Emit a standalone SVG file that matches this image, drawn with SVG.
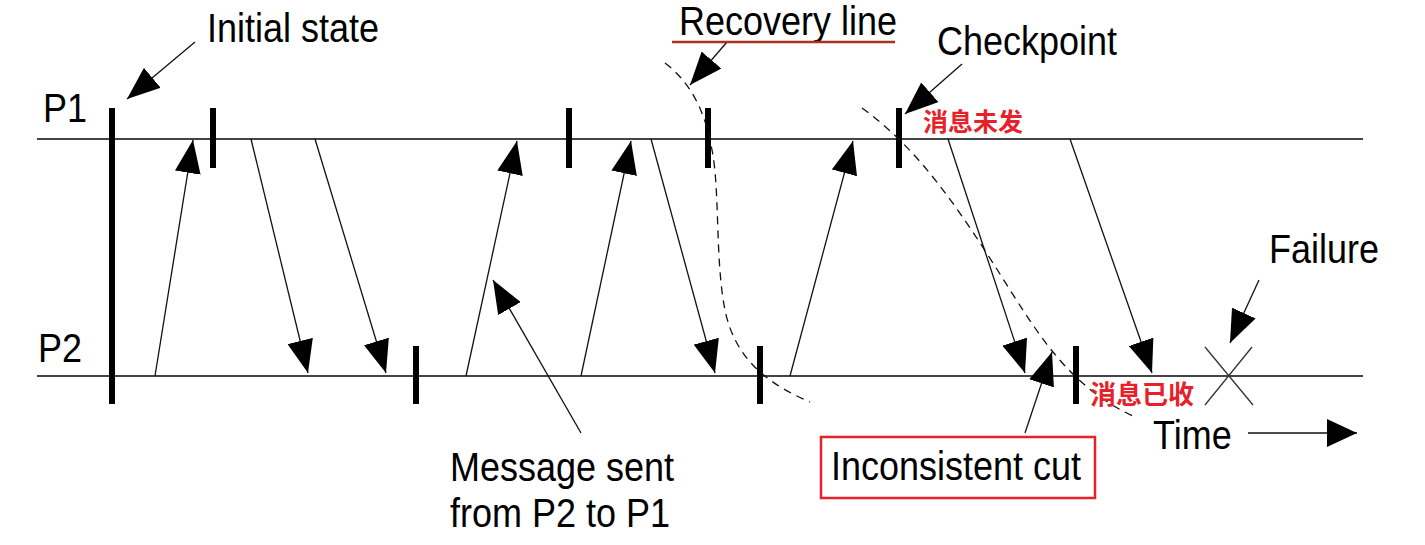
<svg xmlns="http://www.w3.org/2000/svg" width="1425" height="545" viewBox="0 0 1425 545">
<style>
.bg{fill:#ffffff}
.tl{stroke:#444;stroke-width:2;fill:none}
.bar{fill:#000}
.msg{stroke:#111;stroke-width:1.3;fill:none;marker-end:url(#ah)}
.ptr{stroke:#111;stroke-width:1.3;fill:none;marker-end:url(#ah)}
.dash{stroke:#111;stroke-width:1.3;fill:none;stroke-dasharray:8,6}
.lbl{font-family:"Liberation Sans",Arial,sans-serif;font-size:36px;fill:#000}
.cn{font-family:"Noto Sans CJK SC","Noto Sans",sans-serif;font-weight:bold;fill:#e8202a}
.xl{stroke:#333;stroke-width:1.3}
</style>
<defs>
<marker id="ah" markerUnits="userSpaceOnUse" viewBox="0 0 33 26" refX="33" refY="13" markerWidth="33" markerHeight="26" orient="auto">
<path d="M0,0 L33,13 L0,26 z" fill="#000"/>
</marker>
<marker id="ta" markerUnits="userSpaceOnUse" viewBox="0 0 30 28" refX="30" refY="14" markerWidth="30" markerHeight="28" orient="auto">
<path d="M0,0 L30,14 L0,28 z" fill="#000"/>
</marker>
</defs>
<rect class="bg" x="0" y="0" width="1425" height="545"/>

<g id="timelines">
<line class="tl" x1="37" y1="139" x2="1363" y2="139"/>
<line class="tl" x1="37" y1="376" x2="1363" y2="376"/>
<text class="lbl" transform="translate(43,122) scale(1,1.12)">P1</text>
<text class="lbl" transform="translate(38,362) scale(1,1.12)">P2</text>
</g>

<g id="initial-state">
<rect class="bar" x="109" y="108" width="6" height="296"/>
</g>

<g id="checkpoints-p1">
<rect class="bar" x="210" y="108" width="6" height="60"/>
<rect class="bar" x="566" y="108" width="6" height="60"/>
<rect class="bar" x="705" y="108" width="6" height="60"/>
<rect class="bar" x="896" y="108" width="6" height="60"/>
</g>

<g id="checkpoints-p2">
<rect class="bar" x="413" y="346" width="6" height="58"/>
<rect class="bar" x="757" y="346" width="6" height="58"/>
<rect class="bar" x="1073" y="346" width="6" height="58"/>
</g>

<g id="connectors">
<line class="msg" x1="155" y1="376" x2="193" y2="140"/>
<line class="msg" x1="251" y1="139" x2="308" y2="373"/>
<line class="msg" x1="315" y1="139" x2="386" y2="373"/>
<line class="msg" x1="466" y1="376" x2="517" y2="141"/>
<line class="msg" x1="581" y1="376" x2="631" y2="141"/>
<line class="msg" x1="651" y1="139" x2="715" y2="373"/>
<line class="msg" x1="790" y1="376" x2="853" y2="141"/>
<line class="msg" x1="948" y1="139" x2="1025" y2="373"/>
<line class="msg" x1="1070" y1="139" x2="1152" y2="373"/>
<line class="ptr" x1="195" y1="42" x2="127" y2="99"/>
<line class="ptr" x1="727" y1="42" x2="690" y2="85"/>
<line class="ptr" x1="962" y1="64" x2="905" y2="114"/>
<line class="ptr" x1="581" y1="433" x2="493" y2="280"/>
<line class="ptr" x1="1025" y1="433" x2="1052" y2="352"/>
<line class="ptr" x1="1259" y1="280" x2="1230" y2="343"/>
<line stroke="#111" stroke-width="1.5" x1="1248" y1="433" x2="1357" y2="433" marker-end="url(#ta)"/>
</g>

<g id="recovery-line">
<path class="dash" d="M665,63 C690,82 705,110 712,150 C720,190 715,260 725,310 C735,360 770,385 810,402"/>
<text class="lbl" transform="translate(679,35) scale(1,1.12)">Recovery line</text>
<line x1="672" y1="42" x2="895" y2="42" stroke="#a8321e" stroke-width="2.5"/>
</g>

<g id="inconsistent-cut">
<path class="dash" d="M862,108 C920,150 960,210 1010,290 C1045,345 1075,390 1137,418"/>
<rect x="821" y="437" width="274" height="61" fill="none" stroke="#e8202a" stroke-width="2.5"/>
<text class="lbl" transform="translate(831,480) scale(1,1.12)">Inconsistent cut</text>
</g>

<g id="failure">
<line class="xl" x1="1205" y1="347" x2="1253" y2="405"/>
<line class="xl" x1="1252" y1="347" x2="1205" y2="405"/>
<text class="lbl" transform="translate(1269,263) scale(1,1.12)">Failure</text>
</g>

<g id="labels">
<text class="lbl" transform="translate(207,42) scale(1,1.12)">Initial state</text>
<text class="lbl" transform="translate(937,55) scale(1,1.12)">Checkpoint</text>
<text class="lbl" transform="translate(1153,449) scale(1,1.12)">Time</text>
<text class="lbl" transform="translate(450,481) scale(1,1.12)">Message sent</text>
<text class="lbl" transform="translate(450,527) scale(1,1.12)">from P2 to P1</text>
<text class="cn" x="923" y="131" font-size="25">消息未发</text>
<text class="cn" x="1090" y="404" font-size="26">消息已收</text>
</g>
</svg>
